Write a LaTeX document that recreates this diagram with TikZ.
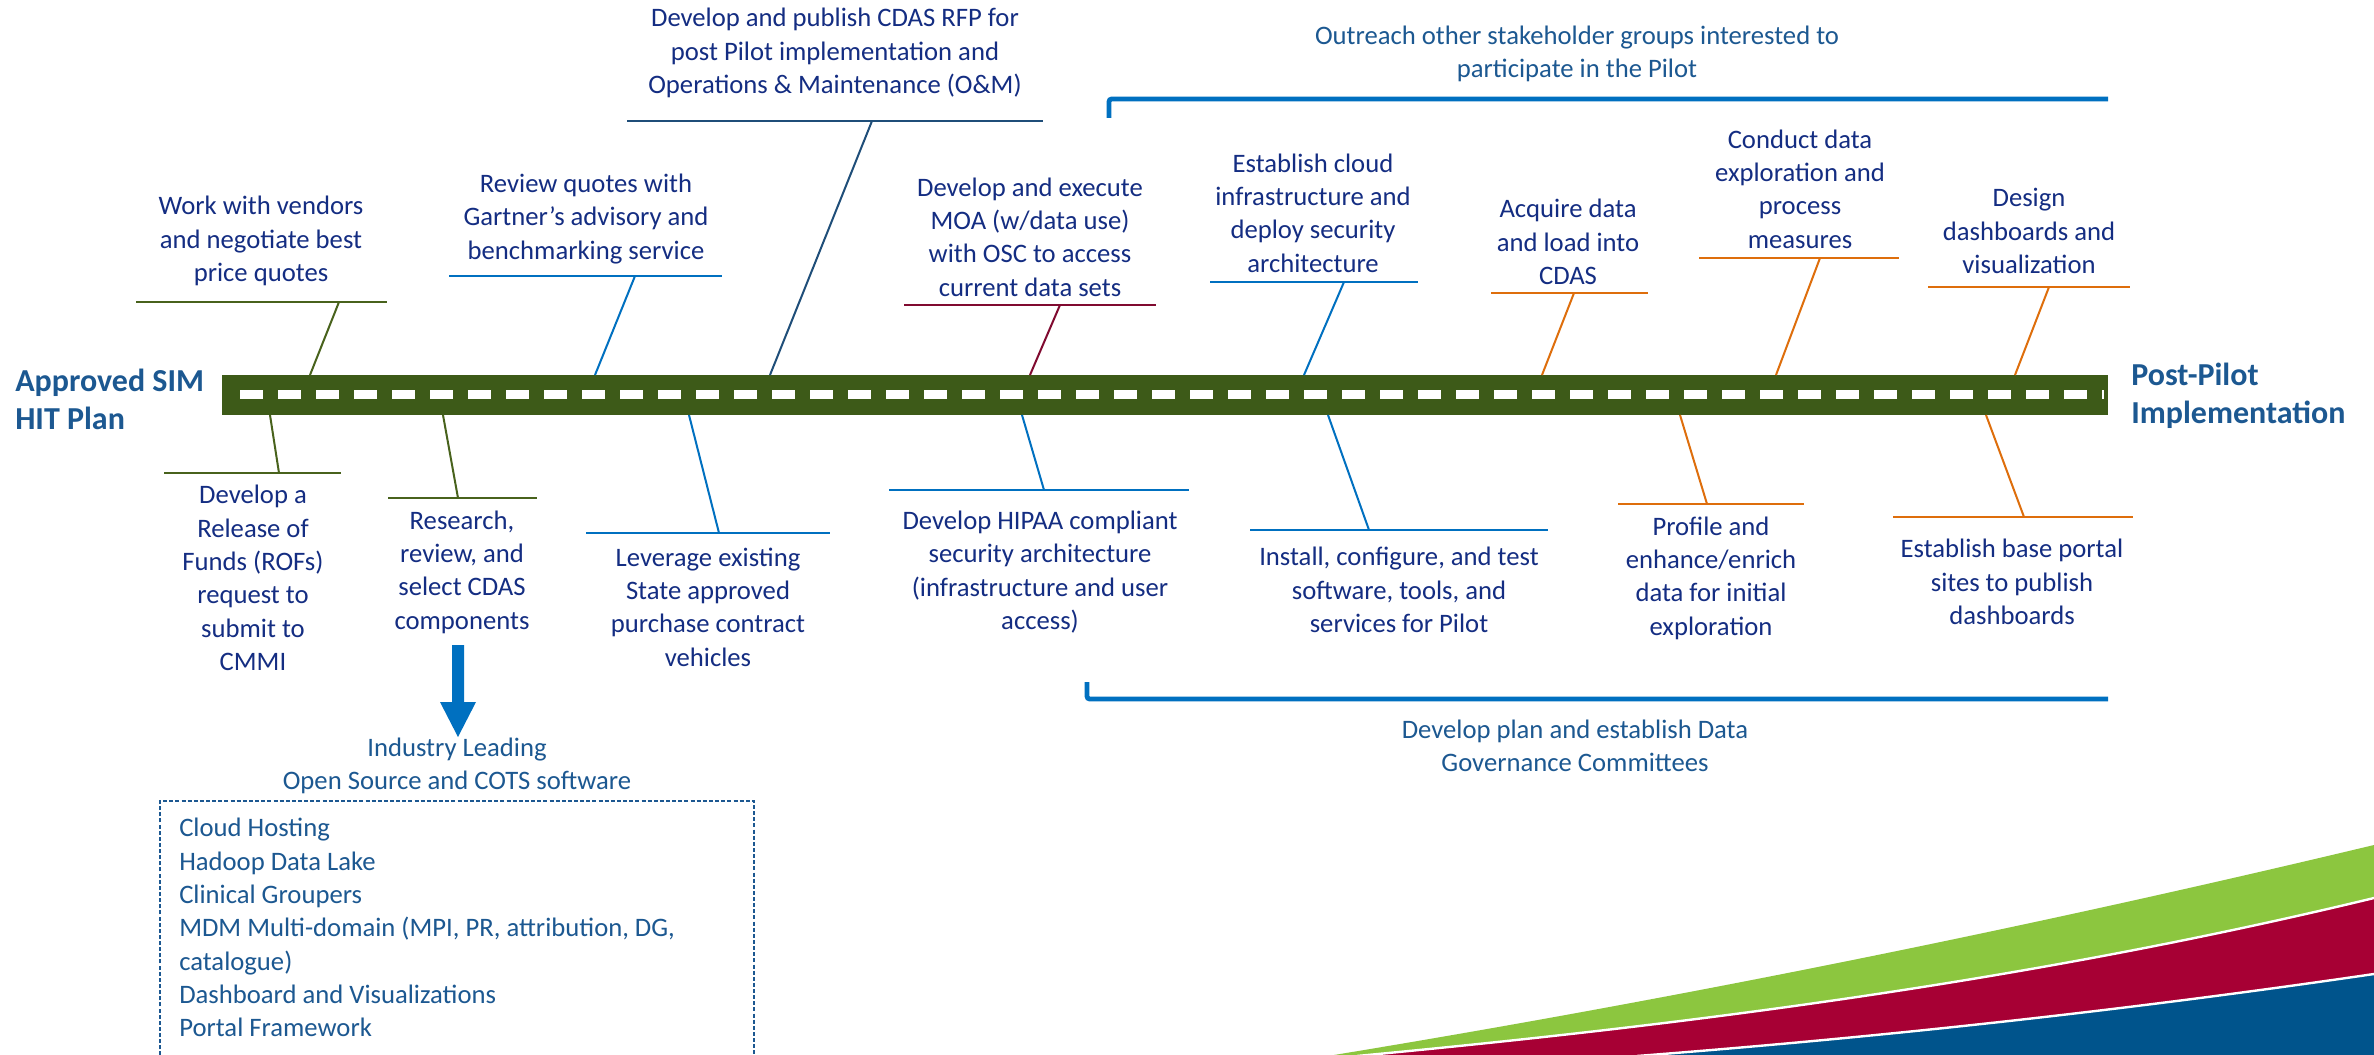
\documentclass[tikz,border=0pt]{standalone}
\usepackage{fontspec}
\setmainfont{Carlito}
\definecolor{navy}{RGB}{20,45,130}
\definecolor{steel}{RGB}{28,88,145}
\definecolor{lblue}{RGB}{0,112,192}
\definecolor{dblue}{RGB}{31,78,121}
\definecolor{maroonc}{RGB}{128,10,48}
\definecolor{olivec}{RGB}{72,98,28}
\definecolor{road}{RGB}{61,90,24}
\definecolor{orng}{RGB}{222,110,12}
\definecolor{swgreen}{RGB}{140,198,63}
\definecolor{swred}{RGB}{167,0,52}
\definecolor{swblue}{RGB}{0,84,140}
\newcommand\branch[8]{%
  \coordinate (#1L) at (#3,#5);
  \coordinate (#1R) at (#4,#5);
  \coordinate (#1J) at (#6,#5);
  \coordinate (#1B) at (#7,#8);
  \draw[uline,#2] (#1L) -- (#1R);
  \draw[conn,#2] (#1J) -- (#1B);}
\begin{document}
\begin{tikzpicture}[x=0.75pt,y=-0.75pt,
  task/.style={text=navy,align=center,inner sep=0pt,font=\fontsize{20}{25}\selectfont},
  note/.style={text=steel,align=center,inner sep=0pt,font=\fontsize{20}{25}\selectfont},
  endlabel/.style={text=steel,align=left,inner sep=0pt,font=\fontsize{24}{28.5}\selectfont\bfseries},
  uline/.style={line width=2.2pt},
  conn/.style={line width=1.5pt},
  bracket/.style={lblue,line width=3.6pt,rounded corners=2pt}]
\useasboundingbox (0,0) rectangle (2374,1055);
\fill[white] (0,0) rectangle (2374,1055);
\begin{scope}
\clip (0,0) rectangle (2374,1055);

% road
\fill[road] (222,375) rectangle (2108,415);
\draw[white,line width=6.75pt,dash pattern=on 17.25pt off 11.25pt] (240,395) -- (2104,395);

% branches
\branch{a}{olivec}{136}{387}{302}{339}{310}{375}
\branch{b}{olivec}{164}{341}{473}{279}{270}{415}
\branch{c}{olivec}{388}{537}{498}{458}{443}{415}
\branch{d}{lblue}{449}{722}{276}{635}{595}{375}
\branch{e}{dblue}{627}{1043}{121}{872}{770}{375}
\branch{f}{lblue}{586}{830}{533}{719}{689}{415}
\branch{g}{maroonc}{904}{1156}{305}{1060}{1030}{375}
\branch{h}{lblue}{889}{1189}{490}{1044}{1022}{415}
\branch{i}{lblue}{1210}{1418}{282}{1344}{1304}{375}
\branch{j}{lblue}{1250}{1548}{530}{1369}{1328}{415}
\branch{k}{orng}{1491}{1648}{293}{1574}{1542}{375}
\branch{l}{orng}{1699}{1899}{258}{1820}{1776}{375}
\branch{m}{orng}{1928}{2130}{287}{2049}{2015}{375}
\branch{n}{orng}{1618}{1804}{504}{1707}{1680}{415}
\branch{o}{orng}{1893}{2133}{517}{2024}{1986}{415}

% task texts
\node[task] (ta) at (261,241) {Work with vendors\\and negotiate best\\price quotes};
\node[task] (tb) at (253,578) {Develop a\\Release of\\Funds (ROFs)\\request to\\submit to\\CMMI};
\node[task] (tc) at (462,572) {Research,\\review, and\\select CDAS\\components};
\node[task] (td) at (586,219) {Review quotes with\\Gartner’s advisory and\\benchmarking service};
\node[task] (te) at (835,53) {Develop and publish CDAS RFP for\\post Pilot implementation and\\Operations \& Maintenance (O\&M)};
\node[task] (tf) at (708,607) {Leverage existing\\State approved\\purchase contract\\vehicles};
\node[task] (tg) at (1030,237) {Develop and execute\\MOA (w/data use)\\with OSC to access\\current data sets};
\node[task] (th) at (1040,572) {Develop HIPAA compliant\\security architecture\\(infrastructure and user\\access)};
\node[task] (ti) at (1313,213) {Establish cloud\\infrastructure and\\deploy security\\architecture};
\node[task] (tj) at (1399,590) {Install, configure, and test\\software, tools, and\\services for Pilot};
\node[task] (tk) at (1568,242) {Acquire data\\and load into\\CDAS};
\node[task] (tl) at (1800,189) {Conduct data\\exploration and\\process\\measures};
\node[task] (tm) at (2029,231) {Design\\dashboards and\\visualization};
\node[task] (tn) at (1711,578) {Profile and\\enhance/enrich\\data for initial\\exploration};
\node[task] (to) at (2012,582) {Establish base portal\\sites to publish\\dashboards};

% end labels
\node[endlabel,anchor=west] (start) at (15,399) {Approved SIM\\HIT Plan};
\node[endlabel,anchor=west] (finish) at (2131,396) {Post-Pilot\\Implementation};

% brackets
\coordinate (outA) at (1109,118);
\coordinate (outB) at (1109,99);
\coordinate (outC) at (2108,99);
\draw[bracket] (outA) -- (outB) -- (outC);
\node[note] (outreach) at (1577,54) {Outreach other stakeholder groups interested to\\participate in the Pilot};
\coordinate (govA) at (1087,682);
\coordinate (govB) at (1087,699);
\coordinate (govC) at (2108,699);
\draw[bracket] (govA) -- (govB) -- (govC);
\node[note] (govern) at (1575,746) {Develop plan and establish Data\\Governance Committees};

% arrow to software box
\fill[lblue] (452,645) -- (464,645) -- (464,702) -- (476,702) -- (458,737) -- (440,702) -- (452,702) -- cycle;
\node[note] (industry) at (457,766) {Industry Leading\\Open Source and COTS software};
\draw[steel,line width=1.3pt,dash pattern=on 3pt off 1.6pt] (160,1080) -- (160,801) -- (754,801) -- (754,1080);
\node[note,align=left,anchor=west] (sw) at (179,927.5) {Cloud Hosting\\Hadoop Data Lake\\Clinical Groupers\\MDM Multi-domain (MPI, PR, attribution, DG,\\catalogue)\\Dashboard and Visualizations\\Portal Framework};

% swoosh
\fill[swgreen] (1334,1055) .. controls (1681,998) and (2027,928) .. (2374,845) -- (2374,1060) -- (1334,1060) -- cycle;
\fill[swred] (1357,1056) .. controls (1696,1024) and (2035,980) .. (2374,898) -- (2374,1060) -- (1357,1060) -- cycle;
\draw[white,line width=1.8pt] (1357,1056) .. controls (1696,1024) and (2035,980) .. (2374,898);
\fill[swblue] (1637,1056) .. controls (1883,1037) and (2128,1010) .. (2374,974) -- (2374,1060) -- (1637,1060) -- cycle;
\draw[white,line width=1.8pt] (1637,1056) .. controls (1883,1037) and (2128,1010) .. (2374,974);
\end{scope}
\end{tikzpicture}
\end{document}
